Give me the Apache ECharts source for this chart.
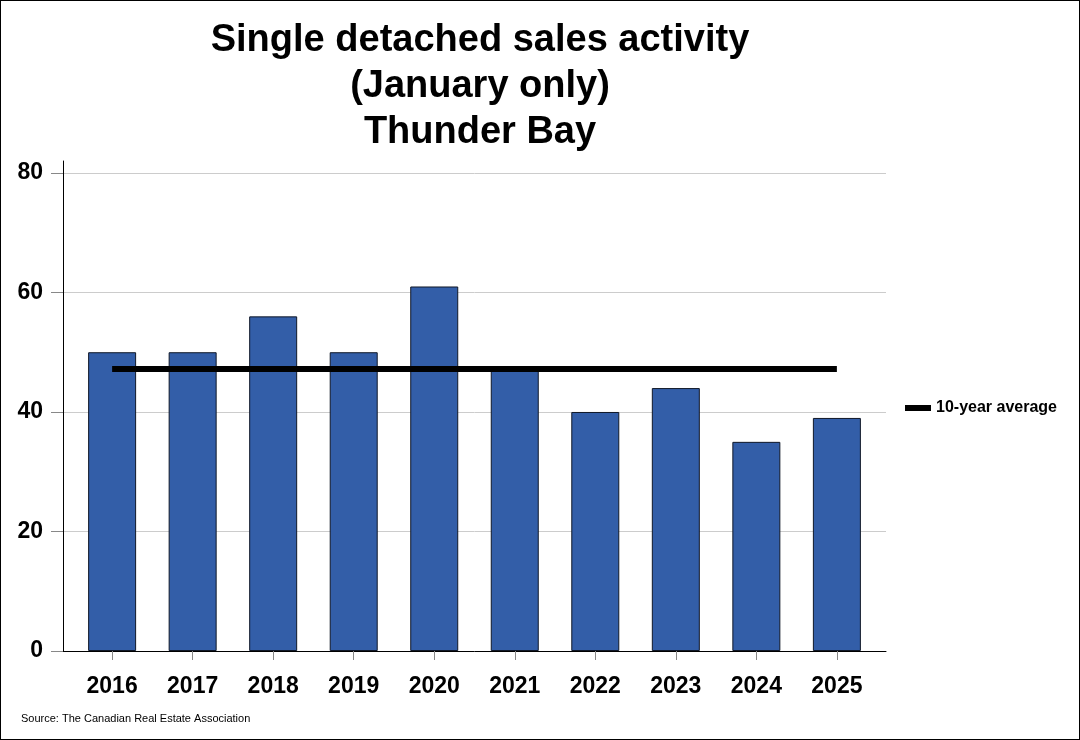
<!DOCTYPE html>
<html><head><meta charset="utf-8">
<script src="https://cdn.jsdelivr.net/npm/echarts@6/dist/echarts.min.js"></script>
<style>
html,body{margin:0;padding:0;background:#fff;}
#c{width:1080px;height:740px;box-sizing:border-box;border:1px solid #000;}
</style></head>
<body><div id="c"></div>
<script>
const years = [2016, 2017, 2018, 2019, 2020, 2021, 2022, 2023, 2024, 2025];
const sales = [50, 50, 56, 50, 61, 47, 40, 44, 35, 39];
const tenYearAverage = [47.2, 47.2, 47.2, 47.2, 47.2, 47.2, 47.2, 47.2, 47.2, 47.2];
const yTicks = [0, 20, 40, 60, 80];

const F = 'Arial, "Liberation Sans", sans-serif';
const chart = echarts.init(document.getElementById('c'), null, {renderer: 'canvas'});
chart.setOption({
  animation: false,
  title: {
    text: 'Single detached sales activity\n(January only)\nThunder Bay',
    left: 474, textAlign: 'center', top: 12,
    textStyle: {fontFamily: F, fontSize: 38, fontWeight: 'bold', color: '#000', lineHeight: 46}
  },
  legend: {
    left: 899, top: 394,
    data: [{name: '10-year average', icon: 'rect'}],
    itemWidth: 26, itemHeight: 6, itemGap: 8,
    textStyle: {fontFamily: F, fontSize: 16, fontWeight: 'bold', color: '#000'}
  },
  graphic: [{
    type: 'text', left: 20, top: 712,
    style: {text: 'Source: The Canadian Real Estate Association', font: '11px ' + F, fill: '#000'}
  }],
  grid: {left: 62, right: 193, top: 160, bottom: 88, containLabel: false},
  xAxis: {
    type: 'value', min: 2015.39, max: 2025.61,
    axisLine: {show: true, onZero: false, lineStyle: {color: '#000', width: 1}},
    axisTick: {show: true, customValues: years, length: 9, lineStyle: {color: '#888'}},
    axisLabel: {customValues: years, margin: 24, fontFamily: F, fontSize: 23, fontWeight: 'bold', color: '#000',
      formatter: v => String(Math.round(v))},
    splitLine: {show: false}
  },
  yAxis: {
    type: 'value', min: 0, max: 82,
    axisLine: {show: true, lineStyle: {color: '#000', width: 1}},
    axisTick: {show: true, customValues: yTicks, length: 12, lineStyle: {color: '#888'}},
    axisLabel: {customValues: yTicks, margin: 20, verticalAlign: 'middle', fontFamily: F, fontSize: 23, fontWeight: 'bold', color: '#000'},
    splitLine: {show: true, lineStyle: {color: '#cccccc', width: 1}}
  },
  series: [
    {
      name: 'Sales', type: 'bar', barWidth: 48,
      data: years.map((y, i) => [y, sales[i]]),
      itemStyle: {color: '#335EA8', borderColor: '#101828', borderWidth: 1}
    },
    {
      name: '10-year average', type: 'line', symbol: 'none',
      data: years.map((y, i) => [y, tenYearAverage[i]]),
      lineStyle: {color: '#000', width: 6}, itemStyle: {color: '#000'}, z: 5
    }
  ]
});
</script></body></html>
